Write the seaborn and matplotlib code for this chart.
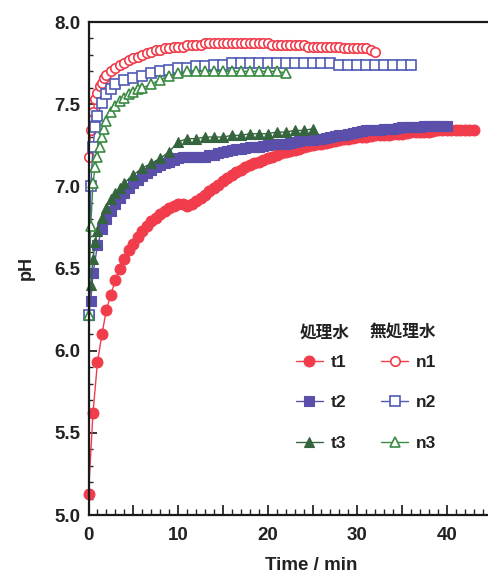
import numpy as np
import pandas as pd
import matplotlib
matplotlib.use("Agg")
import matplotlib.pyplot as plt
from matplotlib.ticker import MultipleLocator, FixedLocator
import seaborn as sns

# ---------------- data ----------------
t1_time = [0, 0.5, 1, 1.5, 2, 2.5, 3, 3.5, 4, 4.5, 5, 5.5, 6, 6.5, 7, 7.5, 8, 8.5, 9, 9.5,
           10, 10.5, 11, 11.5, 12, 12.5, 13, 13.5, 14, 14.5, 15, 15.5, 16, 16.5, 17, 17.5,
           18, 18.5, 19, 19.5, 20, 20.5, 21, 21.5, 22, 22.5, 23, 23.5, 24, 24.5, 25, 25.5,
           26, 26.5, 27, 27.5, 28, 28.5, 29, 29.5, 30, 30.5, 31, 31.5, 32, 32.5, 33, 33.5,
           34, 34.5, 35, 35.5, 36, 36.5, 37, 37.5, 38, 38.5, 39, 39.5, 40, 40.5, 41, 41.5,
           42, 42.5, 43]
t1_ph = [5.13, 5.62, 5.93, 6.10, 6.25, 6.34, 6.43, 6.50, 6.56, 6.61, 6.65, 6.69, 6.73, 6.76,
         6.79, 6.81, 6.83, 6.85, 6.87, 6.88, 6.89, 6.89, 6.88, 6.89, 6.91,
         6.93, 6.95, 6.97, 6.99, 7.01, 7.03, 7.05, 7.07, 7.085, 7.10,
         7.115, 7.13, 7.14, 7.15, 7.16, 7.17, 7.18, 7.19, 7.20, 7.21,
         7.215, 7.22, 7.23, 7.24, 7.245, 7.25, 7.255, 7.26, 7.265, 7.27,
         7.275, 7.28, 7.285, 7.29, 7.295, 7.30, 7.30, 7.30, 7.305, 7.31,
         7.31, 7.31, 7.315, 7.32, 7.32, 7.32, 7.325, 7.33, 7.33, 7.33,
         7.33, 7.33, 7.335, 7.34, 7.34, 7.34, 7.34, 7.34, 7.34, 7.34,
         7.34, 7.34]

t2_time = [0, 0.25, 0.5, 1, 1.5, 2, 2.5, 3, 3.5, 4, 4.5, 5, 5.5, 6, 6.5, 7, 7.5, 8, 8.5, 9,
           9.5, 10, 10.5, 11, 11.5, 12, 12.5, 13, 13.5, 14, 14.5, 15, 15.5, 16, 16.5, 17,
           17.5, 18, 18.5, 19, 19.5, 20, 20.5, 21, 21.5, 22, 22.5, 23, 23.5, 24, 24.5, 25,
           25.5, 26, 26.5, 27, 27.5, 28, 28.5, 29, 29.5, 30, 30.5, 31, 31.5, 32, 32.5, 33,
           33.5, 34, 34.5, 35, 35.5, 36, 36.5, 37, 37.5, 38, 38.5, 39, 39.5, 40]
t2_ph = [6.22, 6.30, 6.47, 6.64, 6.74, 6.80, 6.85, 6.89, 6.93, 6.96, 6.99, 7.02, 7.04, 7.06,
         7.08, 7.10, 7.12, 7.13, 7.14, 7.15, 7.16, 7.17,
         7.18, 7.18, 7.18, 7.18, 7.18, 7.18, 7.19, 7.19, 7.20, 7.21,
         7.215, 7.22, 7.225, 7.23, 7.235, 7.24, 7.24, 7.24, 7.245, 7.25,
         7.255, 7.26, 7.26, 7.26, 7.265, 7.27, 7.275, 7.28, 7.28, 7.28,
         7.285, 7.29, 7.295, 7.30, 7.305, 7.31, 7.315, 7.32, 7.325, 7.33,
         7.335, 7.34, 7.34, 7.34, 7.345, 7.35, 7.35, 7.35, 7.355, 7.36,
         7.36, 7.36, 7.36, 7.36, 7.365, 7.37, 7.37, 7.37, 7.37, 7.37]

t3_time = [0, 0.25, 0.5, 0.75, 1, 1.5, 2, 2.5, 3, 3.5, 4, 5, 6, 7, 8, 9, 10, 11, 12, 13, 14,
           15, 16, 17, 18, 19, 20, 21, 22, 23, 24, 25]
t3_ph = [6.22, 6.40, 6.56, 6.66, 6.73, 6.81, 6.87, 6.92, 6.96, 6.99, 7.02, 7.07, 7.11, 7.14,
         7.17, 7.21, 7.27, 7.29, 7.29, 7.30, 7.30, 7.30, 7.31, 7.31, 7.32, 7.32, 7.32, 7.33,
         7.33, 7.34, 7.34, 7.35]

n1_time = [0, 0.25, 0.5, 0.75, 1, 1.25, 1.5, 1.75, 2, 2.5, 3, 3.5, 4, 4.5, 5, 5.5, 6, 6.5,
           7, 7.5, 8, 8.5, 9, 9.5, 10, 10.5, 11, 11.5, 12, 12.5, 13, 13.5, 14, 14.5, 15,
           15.5, 16, 16.5, 17, 17.5, 18, 18.5, 19, 19.5, 20, 20.5, 21, 21.5, 22, 22.5, 23,
           23.5, 24, 24.5, 25, 25.5, 26, 26.5, 27, 27.5, 28, 28.5, 29, 29.5, 30, 30.5, 31,
           31.5, 32]
n1_ph = [7.18, 7.34, 7.45, 7.53, 7.57, 7.61, 7.63, 7.66, 7.68, 7.70, 7.72, 7.74, 7.75, 7.77,
         7.78, 7.79, 7.80, 7.81, 7.82, 7.83, 7.83, 7.84, 7.84, 7.85, 7.85, 7.85, 7.86, 7.86,
         7.86, 7.86, 7.87, 7.87, 7.87, 7.87, 7.87, 7.87, 7.87, 7.87, 7.87, 7.87, 7.87, 7.87,
         7.87, 7.87, 7.87, 7.86, 7.86, 7.86, 7.86, 7.86, 7.86, 7.86, 7.86, 7.85, 7.85, 7.85,
         7.85, 7.85, 7.85, 7.85, 7.85, 7.84, 7.84, 7.84, 7.84, 7.84, 7.84, 7.83, 7.82]

n2_time = [0, 0.25, 0.5, 0.75, 1, 1.5, 2, 2.5, 3, 4, 5, 6, 7, 8, 9, 10, 11, 12, 13, 14, 15,
           16, 17, 18, 19, 20, 21, 22, 23, 24, 25, 26, 27, 28, 29, 30, 31, 32, 33, 34, 35, 36]
n2_ph = [6.22, 7.00, 7.24, 7.36, 7.43, 7.51, 7.56, 7.59, 7.62, 7.645, 7.66, 7.67, 7.69, 7.70,
         7.71, 7.72, 7.72, 7.73, 7.73, 7.74, 7.74, 7.75, 7.75, 7.75, 7.75, 7.75, 7.75, 7.75,
         7.75, 7.75, 7.75, 7.75, 7.75, 7.74, 7.74, 7.74, 7.74, 7.74, 7.74, 7.74, 7.74, 7.74]

n3_time = [0, 0.25, 0.5, 0.75, 1, 1.25, 1.5, 1.75, 2, 2.5, 3, 3.5, 4, 4.5, 5, 5.5, 6, 7, 8,
           9, 10, 11, 12, 13, 14, 15, 16, 17, 18, 19, 20, 21, 22]
n3_ph = [6.22, 6.76, 7.02, 7.12, 7.18, 7.24, 7.30, 7.35, 7.40, 7.45, 7.49, 7.52, 7.54, 7.56,
         7.575, 7.59, 7.60, 7.62, 7.65, 7.67, 7.69, 7.70, 7.70, 7.70, 7.70, 7.70, 7.70, 7.70,
         7.70, 7.70, 7.70, 7.70, 7.69]

x_ticks = [0, 10, 20, 30, 40]
y_ticks = [5.0, 5.5, 6.0, 6.5, 7.0, 7.5, 8.0]
header_treated = "処理水"
header_untreated = "無処理水"

# ---------------- style ----------------
sns.set_style("ticks")
plt.rcParams["font.family"] = ["Liberation Sans", "Noto Sans CJK JP", "DejaVu Sans"]

RED = "#f03c4b"
BLUE_F = "#5a4faa"
BLUE_O = "#4f5ab4"
GREEN_F = "#35653e"
GREEN_O = "#3a8a42"
TXT = "#222222"

W, H = 489, 576
fig = plt.figure(figsize=(W / 100, H / 100), dpi=100)
ax_left, ax_right, ax_top, ax_bot = 88.5, 489, 22, 515
ax = fig.add_axes([ax_left / W, 1 - ax_bot / H, (ax_right - ax_left) / W, (ax_bot - ax_top) / H])

series = [
    ("t1", t1_time, t1_ph, dict(color=RED, marker="o", ms=7.8, mfc=RED, mec=RED, mew=0.8)),
    ("t2", t2_time, t2_ph, dict(color=BLUE_F, marker="s", ms=6.6, mfc=BLUE_F, mec=BLUE_F, mew=0.8)),
    ("t3", t3_time, t3_ph, dict(color=GREEN_F, marker="^", ms=7.2, mfc=GREEN_F, mec=GREEN_F, mew=0.8)),
    ("n1", n1_time, n1_ph, dict(color=RED, marker="o", ms=6.8, mfc="white", mec=RED, mew=1.2)),
    ("n2", n2_time, n2_ph, dict(color=BLUE_O, marker="s", ms=6.6, mfc="white", mec=BLUE_O, mew=1.2)),
    ("n3", n3_time, n3_ph, dict(color=GREEN_O, marker="^", ms=7.0, mfc="white", mec=GREEN_O, mew=1.2)),
]

for name, tx, py, kw in series:
    df = pd.DataFrame({"time": tx, "pH": py})
    sns.lineplot(data=df, x="time", y="pH", ax=ax, label=name, lw=1.0, clip_on=False, **kw)

ax.set_xlim(0, (ax_right - ax_left) / 8.96)
ax.set_ylim(5.0, 8.0)

xmaj = [0, 5, 10, 15, 20, 25, 30, 35, 40]
ax.xaxis.set_major_locator(FixedLocator(xmaj))
ax.set_xticklabels([str(v) if v in x_ticks else "" for v in xmaj])
ax.xaxis.set_minor_locator(MultipleLocator(1))
ax.yaxis.set_major_locator(FixedLocator(y_ticks))
ax.set_yticklabels([f"{v:.1f}" for v in y_ticks])
ax.yaxis.set_minor_locator(MultipleLocator(0.1))

ax.tick_params(axis="x", which="major", direction="in", length=7, width=1.3, pad=9, labelsize=13.5)
ax.tick_params(axis="x", which="minor", direction="in", length=4, width=1.0)
ax.tick_params(axis="y", which="major", direction="in", length=6, width=1.3, pad=6, labelsize=13.5)
ax.tick_params(axis="y", which="minor", direction="in", length=3, width=1.0)
for lab in ax.get_xticklabels() + ax.get_yticklabels():
    lab.set_fontweight("bold")
    lab.set_color(TXT)

for s in ["left", "bottom", "top"]:
    ax.spines[s].set_linewidth(1.6)
    ax.spines[s].set_color("#1a1a1a")
ax.spines["right"].set_visible(False)

ax.set_xlabel("Time / min", fontsize=13.5, fontweight="bold", color=TXT)
ax.set_ylabel("pH", fontsize=13, fontweight="bold", color=TXT)
ax.xaxis.set_label_coords((311 - ax_left) / (ax_right - ax_left), -(557 - ax_bot) / (ax_bot - ax_top))
ax.yaxis.set_label_coords(-(ax_left - 35) / (ax_right - ax_left), 0.5)

handles, labels = ax.get_legend_handles_labels()
hmap = dict(zip(labels, handles))
leg_order = ["t1", "t2", "t3", "n1", "n2", "n3"]
leg = ax.legend([hmap[k] for k in leg_order], leg_order, ncol=2, frameon=False,
                loc="upper left", bbox_to_anchor=(296 / W, 1 - 355 / H),
                bbox_transform=fig.transFigure, borderpad=0, borderaxespad=0,
                handlelength=1.55, handletextpad=0.45, labelspacing=1.45,
                columnspacing=2.0, prop=dict(size=12.5, weight="bold"))
for t in leg.get_texts():
    t.set_color(TXT)

fig.text(325 / W, 1 - 333 / H, header_treated, ha="center", va="center", fontsize=12,
         fontweight="bold", family=["Noto Sans CJK JP"], color=TXT)
fig.text(403 / W, 1 - 333 / H, header_untreated, ha="center", va="center", fontsize=12,
         fontweight="bold", family=["Noto Sans CJK JP"], color=TXT)

fig.savefig("out.png", dpi=100)
